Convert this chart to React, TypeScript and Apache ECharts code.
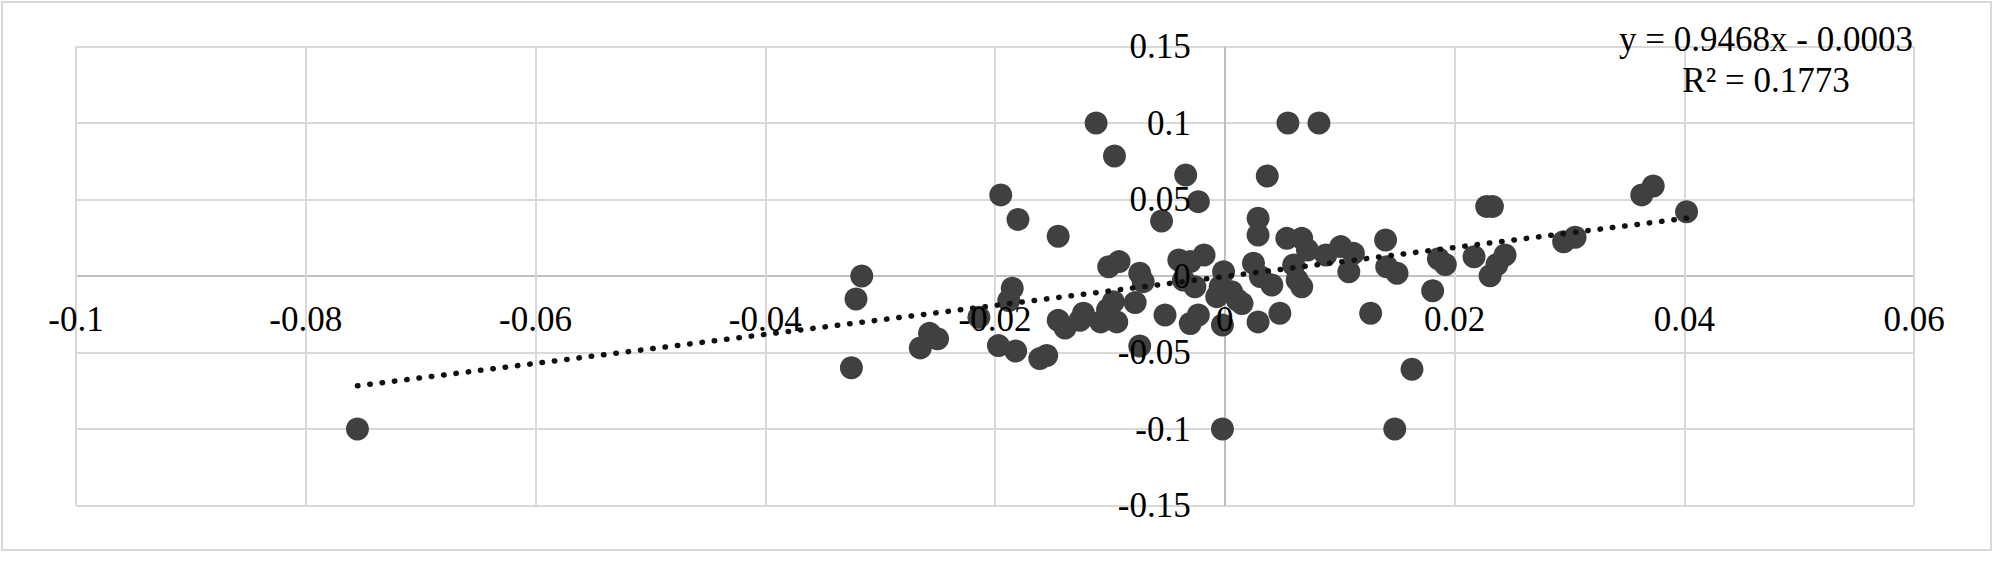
import React, { useEffect, useRef } from "react";
import * as echarts from "echarts";

// Scatter data: [x, y]
const xValues: number[] = [
  -0.0755, -0.0325, -0.0321, -0.0316, -0.0265, -0.0257, -0.025, -0.0214, -0.0197, -0.0195,
  -0.0188, -0.0185, -0.0182, -0.018, -0.0161, -0.0155, -0.0145, -0.0145, -0.0139, -0.0126,
  -0.0123, -0.0112, -0.0108, -0.0102, -0.0101, -0.0097, -0.0096, -0.0094, -0.0092, -0.0078,
  -0.0074, -0.0074, -0.0071, -0.0055, -0.0052, -0.004, -0.0036, -0.0034, -0.003, -0.003,
  -0.0026, -0.0023, -0.0023, -0.0018, -0.0007, -0.0004, -0.0002, -0.0002, -0.0001, 0.0006,
  0.0011, 0.0015, 0.0025, 0.0029, 0.0029, 0.0029, 0.0031, 0.0037, 0.0041, 0.0048,
  0.0054, 0.0055, 0.006, 0.0063, 0.0067, 0.0067, 0.0072, 0.0082, 0.0088, 0.0101,
  0.0108, 0.0112, 0.0127, 0.014, 0.0141, 0.0148, 0.015, 0.0163, 0.0181, 0.0186,
  0.0192, 0.0217, 0.0228, 0.0233, 0.0231, 0.0237, 0.0244, 0.0295, 0.0305, 0.0363,
  0.0373, 0.0402,
];
const yValues: number[] = [
  -0.1, -0.06, -0.015, 0.0, -0.047, -0.0375, -0.041, -0.027, -0.0455, 0.053,
  -0.016, -0.008, -0.049, 0.037, -0.054, -0.052, 0.026, -0.029, -0.034, -0.029,
  -0.0244, 0.1, -0.03, -0.022, 0.006, -0.0168, 0.0784, -0.03, 0.0094, -0.0174,
  0.0018, -0.0458, -0.0037, 0.036, -0.0255, 0.0105, -0.0026, 0.066, 0.0094, -0.031,
  -0.007, 0.0486, -0.0255, 0.0137, -0.0135, -0.007, -0.032, -0.1, 0.0028, -0.0103,
  -0.0157, -0.018, 0.0083, 0.0377, 0.0268, -0.03, -0.0004, 0.0654, -0.0059, -0.0244,
  0.0246, 0.1, 0.0072, -0.0026, 0.0246, -0.007, 0.017, 0.1, 0.0137, 0.0192,
  0.0028, 0.0148, -0.0244, 0.0235, 0.006, -0.1, 0.0018, -0.061, -0.0096, 0.0113,
  0.0075, 0.0126, 0.0455, 0.0455, 0.0002, 0.0075, 0.0137, 0.0224, 0.0253, 0.053,
  0.0588, 0.042,
];

// Trendline reported in the chart
const trendSlope = 0.9468;
const trendIntercept = -0.0003;
const trendR2 = 0.1773;

// Axis ranges / ticks
const xRange = { min: -0.1, max: 0.06, interval: 0.02 };
const yRange = { min: -0.15, max: 0.15, interval: 0.05 };

const FONT = "Liberation Serif";
const GRID_COLOR = "#d9d9d9";
const ZERO_COLOR = "#bfbfbf";

// layout of the plot area (pixels)
const CHART_W = 2000;
const CHART_H = 580;
const GRID = { left: 76, right: 86, top: 46.5, bottom: 74.5 };

function gridColors(min: number, max: number, interval: number): string[] {
  const n = Math.round((max - min) / interval);
  const colors: string[] = [];
  for (let i = 0; i <= n; i++) {
    const v = min + i * interval;
    colors.push(Math.abs(v) < interval / 100 ? ZERO_COLOR : GRID_COLOR);
  }
  return colors;
}

export default function App() {
  const ref = useRef<HTMLDivElement>(null);

  useEffect(() => {
    if (!ref.current) return;
    const chart = echarts.init(ref.current, undefined, { renderer: "svg" });

    const points = xValues.map((x, i) => [x, yValues[i]]);
    const xMin = Math.min(...xValues);
    const xMax = Math.max(...xValues);
    const trend = [
      [xMin, trendSlope * xMin + trendIntercept],
      [xMax, trendSlope * xMax + trendIntercept],
    ];
    const interceptText =
      trendIntercept < 0
        ? ` - ${Math.abs(trendIntercept).toFixed(4)}`
        : ` + ${trendIntercept.toFixed(4)}`;
    const eqText = `y = ${trendSlope.toFixed(4)}x${interceptText}\nR² = ${trendR2.toFixed(4)}`;

    // shift the label axes from the plot edges to the zero crossings
    const gridW = CHART_W - GRID.left - GRID.right;
    const gridH = CHART_H - GRID.top - GRID.bottom;
    const xLabelOffset = -gridH * ((0 - yRange.min) / (yRange.max - yRange.min));
    const yLabelOffset = -gridW * ((0 - xRange.min) / (xRange.max - xRange.min));

    const baseX = {
      type: "value" as const,
      min: xRange.min,
      max: xRange.max,
      interval: xRange.interval,
    };
    const baseY = {
      type: "value" as const,
      min: yRange.min,
      max: yRange.max,
      interval: yRange.interval,
    };

    chart.setOption({
      animation: false,
      backgroundColor: "#ffffff",
      grid: { ...GRID, containLabel: false },
      xAxis: [
        {
          // labels, drawn above the marks, sitting on y = 0
          ...baseX,
          position: "bottom",
          offset: xLabelOffset,
          z: 10,
          axisLine: { show: false, onZero: false },
          axisTick: { show: false },
          splitLine: { show: false },
          axisLabel: {
            show: true,
            margin: 26,
            color: "#000000",
            fontFamily: FONT,
            fontSize: 35,
          },
        },
        {
          // gridlines, drawn below the marks
          ...baseX,
          position: "top",
          z: 0,
          axisLine: { show: false, onZero: false },
          axisTick: { show: false },
          axisLabel: { show: false },
          splitLine: {
            show: true,
            showMinLine: true,
            showMaxLine: true,
            lineStyle: {
              color: gridColors(xRange.min, xRange.max, xRange.interval),
              width: 2,
            },
          },
        },
      ],
      yAxis: [
        {
          ...baseY,
          position: "left",
          offset: yLabelOffset,
          z: 10,
          axisLine: { show: false, onZero: false },
          axisTick: { show: false },
          splitLine: { show: false },
          axisLabel: {
            show: true,
            margin: 34,
            color: "#000000",
            fontFamily: FONT,
            fontSize: 35,
          },
        },
        {
          ...baseY,
          position: "right",
          z: 0,
          axisLine: { show: false, onZero: false },
          axisTick: { show: false },
          axisLabel: { show: false },
          splitLine: {
            show: true,
            showMinLine: true,
            showMaxLine: true,
            lineStyle: {
              color: gridColors(yRange.min, yRange.max, yRange.interval),
              width: 2,
            },
          },
        },
      ],
      graphic: [
        {
          type: "rect",
          shape: { x: 2, y: 2, width: 1989, height: 548 },
          style: { fill: "none", stroke: "#d9d9d9", lineWidth: 2 },
          silent: true,
          z: -1,
        },
        {
          type: "text",
          x: 1766,
          y: 60,
          z: 20,
          style: {
            text: eqText,
            fill: "#000000",
            font: `35px "${FONT}"`,
            textAlign: "center",
            textVerticalAlign: "middle",
            lineHeight: 41.5,
          },
        },
      ],
      series: [
        {
          type: "scatter",
          xAxisIndex: 0,
          yAxisIndex: 0,
          data: points,
          symbol: "circle",
          symbolSize: 23,
          itemStyle: { color: "#404040", opacity: 1 },
          z: 2,
        },
        {
          type: "line",
          xAxisIndex: 0,
          yAxisIndex: 0,
          data: trend,
          symbol: "none",
          lineStyle: { color: "#111111", width: 5.5, type: [0.5, 11.9], cap: "round" },
          z: 3,
        },
      ],
    });

    return () => chart.dispose();
  }, []);

  return (
    <div
      ref={ref}
      style={{ position: "absolute", left: 0, top: 0, width: CHART_W, height: CHART_H }}
    />
  );
}
